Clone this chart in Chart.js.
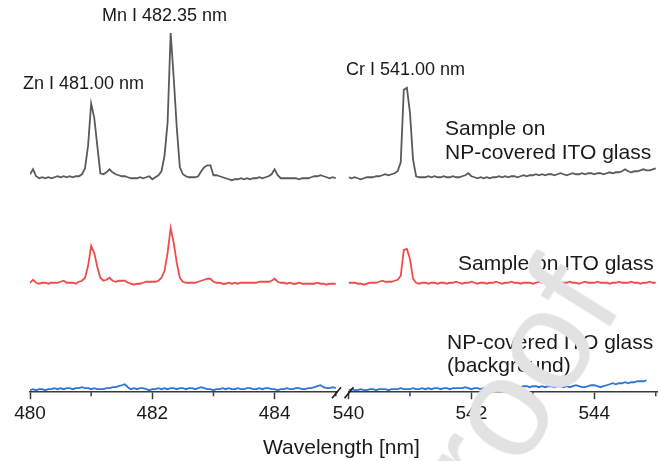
<!DOCTYPE html>
<html>
<head>
<meta charset="utf-8">
<script src="https://cdn.jsdelivr.net/npm/chart.js@4.4.1/dist/chart.umd.min.js"></script>
<style>
  body { margin: 0; background: #fff; }
  #wrap { position: relative; width: 659px; height: 461px; overflow: hidden;
          font-family: Arial, "Liberation Sans", sans-serif; color: #1a1a1a; }
  canvas { position: absolute; top: 0; }
  #leftChart { left: 0; }
  #rightChart { left: 320px; }
  .lbl { position: absolute; white-space: nowrap; line-height: 1; }
  .peak { font-size: 18px; }
  .name { font-size: 21px; }
  #stamp { position: absolute; left: 472px; top: 448px; font-size: 142px; color: #e2e2e2;
           line-height: 1; white-space: nowrap; transform-origin: 0 100%; transform: rotate(-58deg); }
</style>
</head>
<body>
<div id="wrap">
  <canvas id="leftChart" width="342" height="461"></canvas>
  <canvas id="rightChart" width="339" height="461"></canvas>

  <div class="lbl peak" style="left:102px; top:6px;">Mn I 482.35 nm</div>
  <div class="lbl peak" style="left:23px; top:74px;">Zn I 481.00 nm</div>
  <div class="lbl peak" style="left:346px; top:60px;">Cr I 541.00 nm</div>

  <div class="lbl name" style="left:445px; top:117px;">Sample on</div>
  <div class="lbl name" style="left:445px; top:141px;">NP-covered ITO glass</div>
  <div class="lbl name" style="left:458px; top:252px;">Sample on ITO glass</div>
  <div class="lbl name" style="left:447px; top:331px;">NP-covered ITO glass</div>
  <div class="lbl name" style="left:447px; top:354px;">(background)</div>

  <div class="lbl name" style="left:263px; top:436px;">Wavelength [nm]</div>

  <div id="stamp">proof</div>
</div>

<script>
// spectra sampled every 0.05 nm, intensities in a.u. above each trace's baseline
const step = 0.05;
const leftStart = 480.0;
const rightStart = 540.0;

// sample on NP-covered ITO glass
const npSampleLeft = [
  3, 8, 1, -1, 0, -1, 0, -1, 0, 1,
  0, 1, 0, 1, 0, 1, 1, 3, 9, 32,
  74, 60, 32, 4, 3, 5, 8, 5, 3, 2,
  1, 1, 0, -1, -1, -1, 0, -1, 0, 1,
  -2, 0, 2, 6, 22, 55, 145, 100, 50, 10,
  3, 1, 0, 0, 0, 1, 6, 10, 12, 12,
  2, 2, 1, 0, -1, -2, -3, -2, -2, -1,
  -2, -1, -2, -1, -1, 0, -1, 0, 1, 3,
  8, 2, -1, -1, -1, -1, -1, -1, -2, -1,
  -1, -1, 0, 1, 1, 2, 1, 0, -1, 0,
  -1
];
const npSampleRight = [
  0, -1, 0, -1, -2, -1, 0, 0, 0, 1,
  1, 2, 3, 2, 3, 4, 6, 15, 88, 90,
  65, 18, 1, 0, 0, 0, 1, 0, 1, 0,
  0, 1, 0, 0, 1, 0, 0, 1, 2, 4,
  1, 0, -1, 0, -1, 0, -1, 0, 0, 1,
  0, 1, 0, 1, 1, 0, 1, 2, 1, 2,
  2, 3, 2, 3, 2, 3, 3, 2, 3, 4,
  3, 2, 3, 4, 3, 3, 4, 3, 4, 4,
  3, 4, 4, 3, 4, 5, 4, 5, 5, 6,
  8, 6, 5, 6, 6, 7, 8, 7, 7, 8,
  9
];

// sample on ITO glass
const itoSampleLeft = [
  0, 3, 0, -1, 0, 0, -1, 0, 0, 0,
  1, 2, 0, 0, 0, -1, 1, 2, 5, 17,
  37, 30, 16, 5, 2, 3, 5, 2, 1, 2,
  2, 2, 0, -1, -2, -1, -1, 0, 1, 1,
  1, 1, 2, 5, 12, 30, 55, 40, 20, 5,
  1, 0, 0, 0, 0, 1, 2, 3, 4, 4,
  1, 0, 0, -1, -1, 0, -1, 0, -1, 0,
  0, 0, 0, 0, 0, 1, 1, 1, 1, 2,
  4, 1, 0, 0, -1, 0, -1, -1, 0, -1,
  -1, -1, -1, -1, 0, -1, -1, -2, -1, -1,
  -1
];
const itoSampleRight = [
  0, 0, 0, -1, -1, -2, -1, 0, 0, 0,
  1, 2, 1, 1, 1, 2, 3, 7, 33, 34,
  24, 4, 0, -1, 0, 0, -1, 0, 0, -1,
  0, 0, -1, 0, 0, 1, 0, -1, 0, 0,
  1, 0, -1, 0, 0, -1, 0, 0, 1, 0,
  -1, 0, 0, 1, 0, 0, -1, 0, 0, 0,
  -1, 0, 1, 0, 0, 0, -1, 0, 1, 0,
  0, 0, 1, 0, 0, -1, 0, 1, 0, 0,
  0, 1, 0, 0, 0, -1, 0, 0, 1, 0,
  0, 0, 1, 0, 0, -1, 0, 0, 1, 0,
  0
];

// NP-covered ITO glass (background)
const backgroundLeft = [
  2, 3, 2, 3, 3, 2, 3, 3, 4, 3,
  4, 3, 4, 4, 3, 4, 4, 5, 4, 4,
  3, 4, 3, 3, 3, 4, 4, 5, 5, 6,
  7, 8, 5, 3, 4, 3, 4, 4, 3, 2,
  3, 3, 4, 3, 4, 3, 4, 4, 3, 4,
  4, 3, 4, 4, 3, 4, 5, 4, 3, 3,
  2, 3, 3, 4, 3, 4, 3, 3, 4, 3,
  3, 4, 4, 3, 3, 4, 3, 4, 4, 3,
  3, 2, 3, 3, 4, 3, 3, 4, 4, 3,
  3, 4, 4, 5, 6, 7, 5, 4, 4, 5,
  4
];
const backgroundRight = [
  2, 3, 2, 2, 3, 2, 2, 3, 3, 2,
  3, 3, 3, 2, 3, 3, 3, 4, 3, 3,
  3, 4, 3, 3, 4, 3, 4, 3, 4, 4,
  3, 4, 4, 3, 4, 4, 4, 4, 5, 4,
  3, 4, 4, 3, 4, 4, 5, 5, 7, 4,
  5, 4, 5, 6, 5, 6, 5, 6, 6, 5,
  6, 6, 5, 6, 5, 6, 6, 5, 6, 6,
  5, 6, 5, 6, 7, 6, 5, 5, 6, 7,
  7, 6, 5, 6, 7, 8, 9, 8, 9, 9,
  10, 9, 10, 10, 11, 11, 11, 12
];

// vertical stacking of the three traces
const npOffset = 216;
const itoOffset = 110;
const bgOffset = 0;

const majorStep = 2;
const minorLeft = [481, 483, 485];
const minorRight = [541, 543, 545];

const axisColor = '#3a3a3a';
const textColor = '#1a1a1a';

Chart.defaults.font.family = 'Arial, "Liberation Sans", sans-serif';

function toPoints(values, start, offset) {
  return values.map((v, i) => ({ x: +(start + i * step).toFixed(2), y: v + offset }));
}

function makeDatasets(start, np, ito, bg) {
  return [
    { data: toPoints(bg, start, bgOffset), borderColor: '#2f74d8', borderWidth: 1.8 },
    { data: toPoints(ito, start, itoOffset), borderColor: '#f24a4a', borderWidth: 1.8 },
    { data: toPoints(np, start, npOffset), borderColor: '#5a5a5a', borderWidth: 1.8 },
  ].map(d => Object.assign(d, { pointRadius: 0, tension: 0, fill: false }));
}

// minor ticks and the axis break marks
const axisExtras = {
  id: 'axisExtras',
  afterDraw(chart, args, opts) {
    const { ctx, chartArea } = chart;
    const x = chart.scales.x;
    ctx.save();
    ctx.strokeStyle = axisColor;
    ctx.lineWidth = 1.5;
    opts.minor.forEach(v => {
      const px = x.getPixelForValue(v);
      ctx.beginPath();
      ctx.moveTo(px, chartArea.bottom);
      ctx.lineTo(px, chartArea.bottom + 4);
      ctx.stroke();
    });
    if (opts.breakMarks) {
      ctx.strokeStyle = '#1a1a1a';
      ctx.lineWidth = 1.6;
      [chartArea.left - 12, chartArea.left + 0.5].forEach(cx => {
        ctx.beginPath();
        ctx.moveTo(cx - 4.5, chartArea.bottom + 6);
        ctx.lineTo(cx + 4.5, chartArea.bottom - 5);
        ctx.stroke();
      });
    }
    ctx.restore();
  }
};

function makeOptions(min, max, padLeft, padRight, minor, breakMarks) {
  return {
    responsive: false,
    animation: false,
    layout: { padding: { left: padLeft, right: padRight, top: 22, bottom: 33 } },
    plugins: {
      legend: { display: false },
      tooltip: { enabled: false },
      axisExtras: { minor: minor, breakMarks: breakMarks }
    },
    scales: {
      x: {
        type: 'linear',
        min: min,
        max: max,
        border: { display: true, color: axisColor, width: 1.5 },
        grid: { drawOnChartArea: false, drawTicks: true, tickLength: 7, tickColor: axisColor, tickWidth: 1.5 },
        ticks: {
          stepSize: majorStep,
          includeBounds: false,
          autoSkip: false,
          maxRotation: 0,
          padding: 3,
          color: textColor,
          font: { size: 19 }
        }
      },
      y: { display: false, min: 0, max: 372 }
    }
  };
}

new Chart(document.getElementById('leftChart').getContext('2d'), {
  type: 'line',
  data: { datasets: makeDatasets(leftStart, npSampleLeft, itoSampleLeft, backgroundLeft) },
  options: makeOptions(480, 485.02, 30, 5, minorLeft, false),
  plugins: [axisExtras]
});

new Chart(document.getElementById('rightChart').getContext('2d'), {
  type: 'line',
  data: { datasets: makeDatasets(rightStart, npSampleRight, itoSampleRight, backgroundRight) },
  options: makeOptions(540, 545.02, 28.5, 2, minorRight, true),
  plugins: [axisExtras]
});
</script>
</body>
</html>
